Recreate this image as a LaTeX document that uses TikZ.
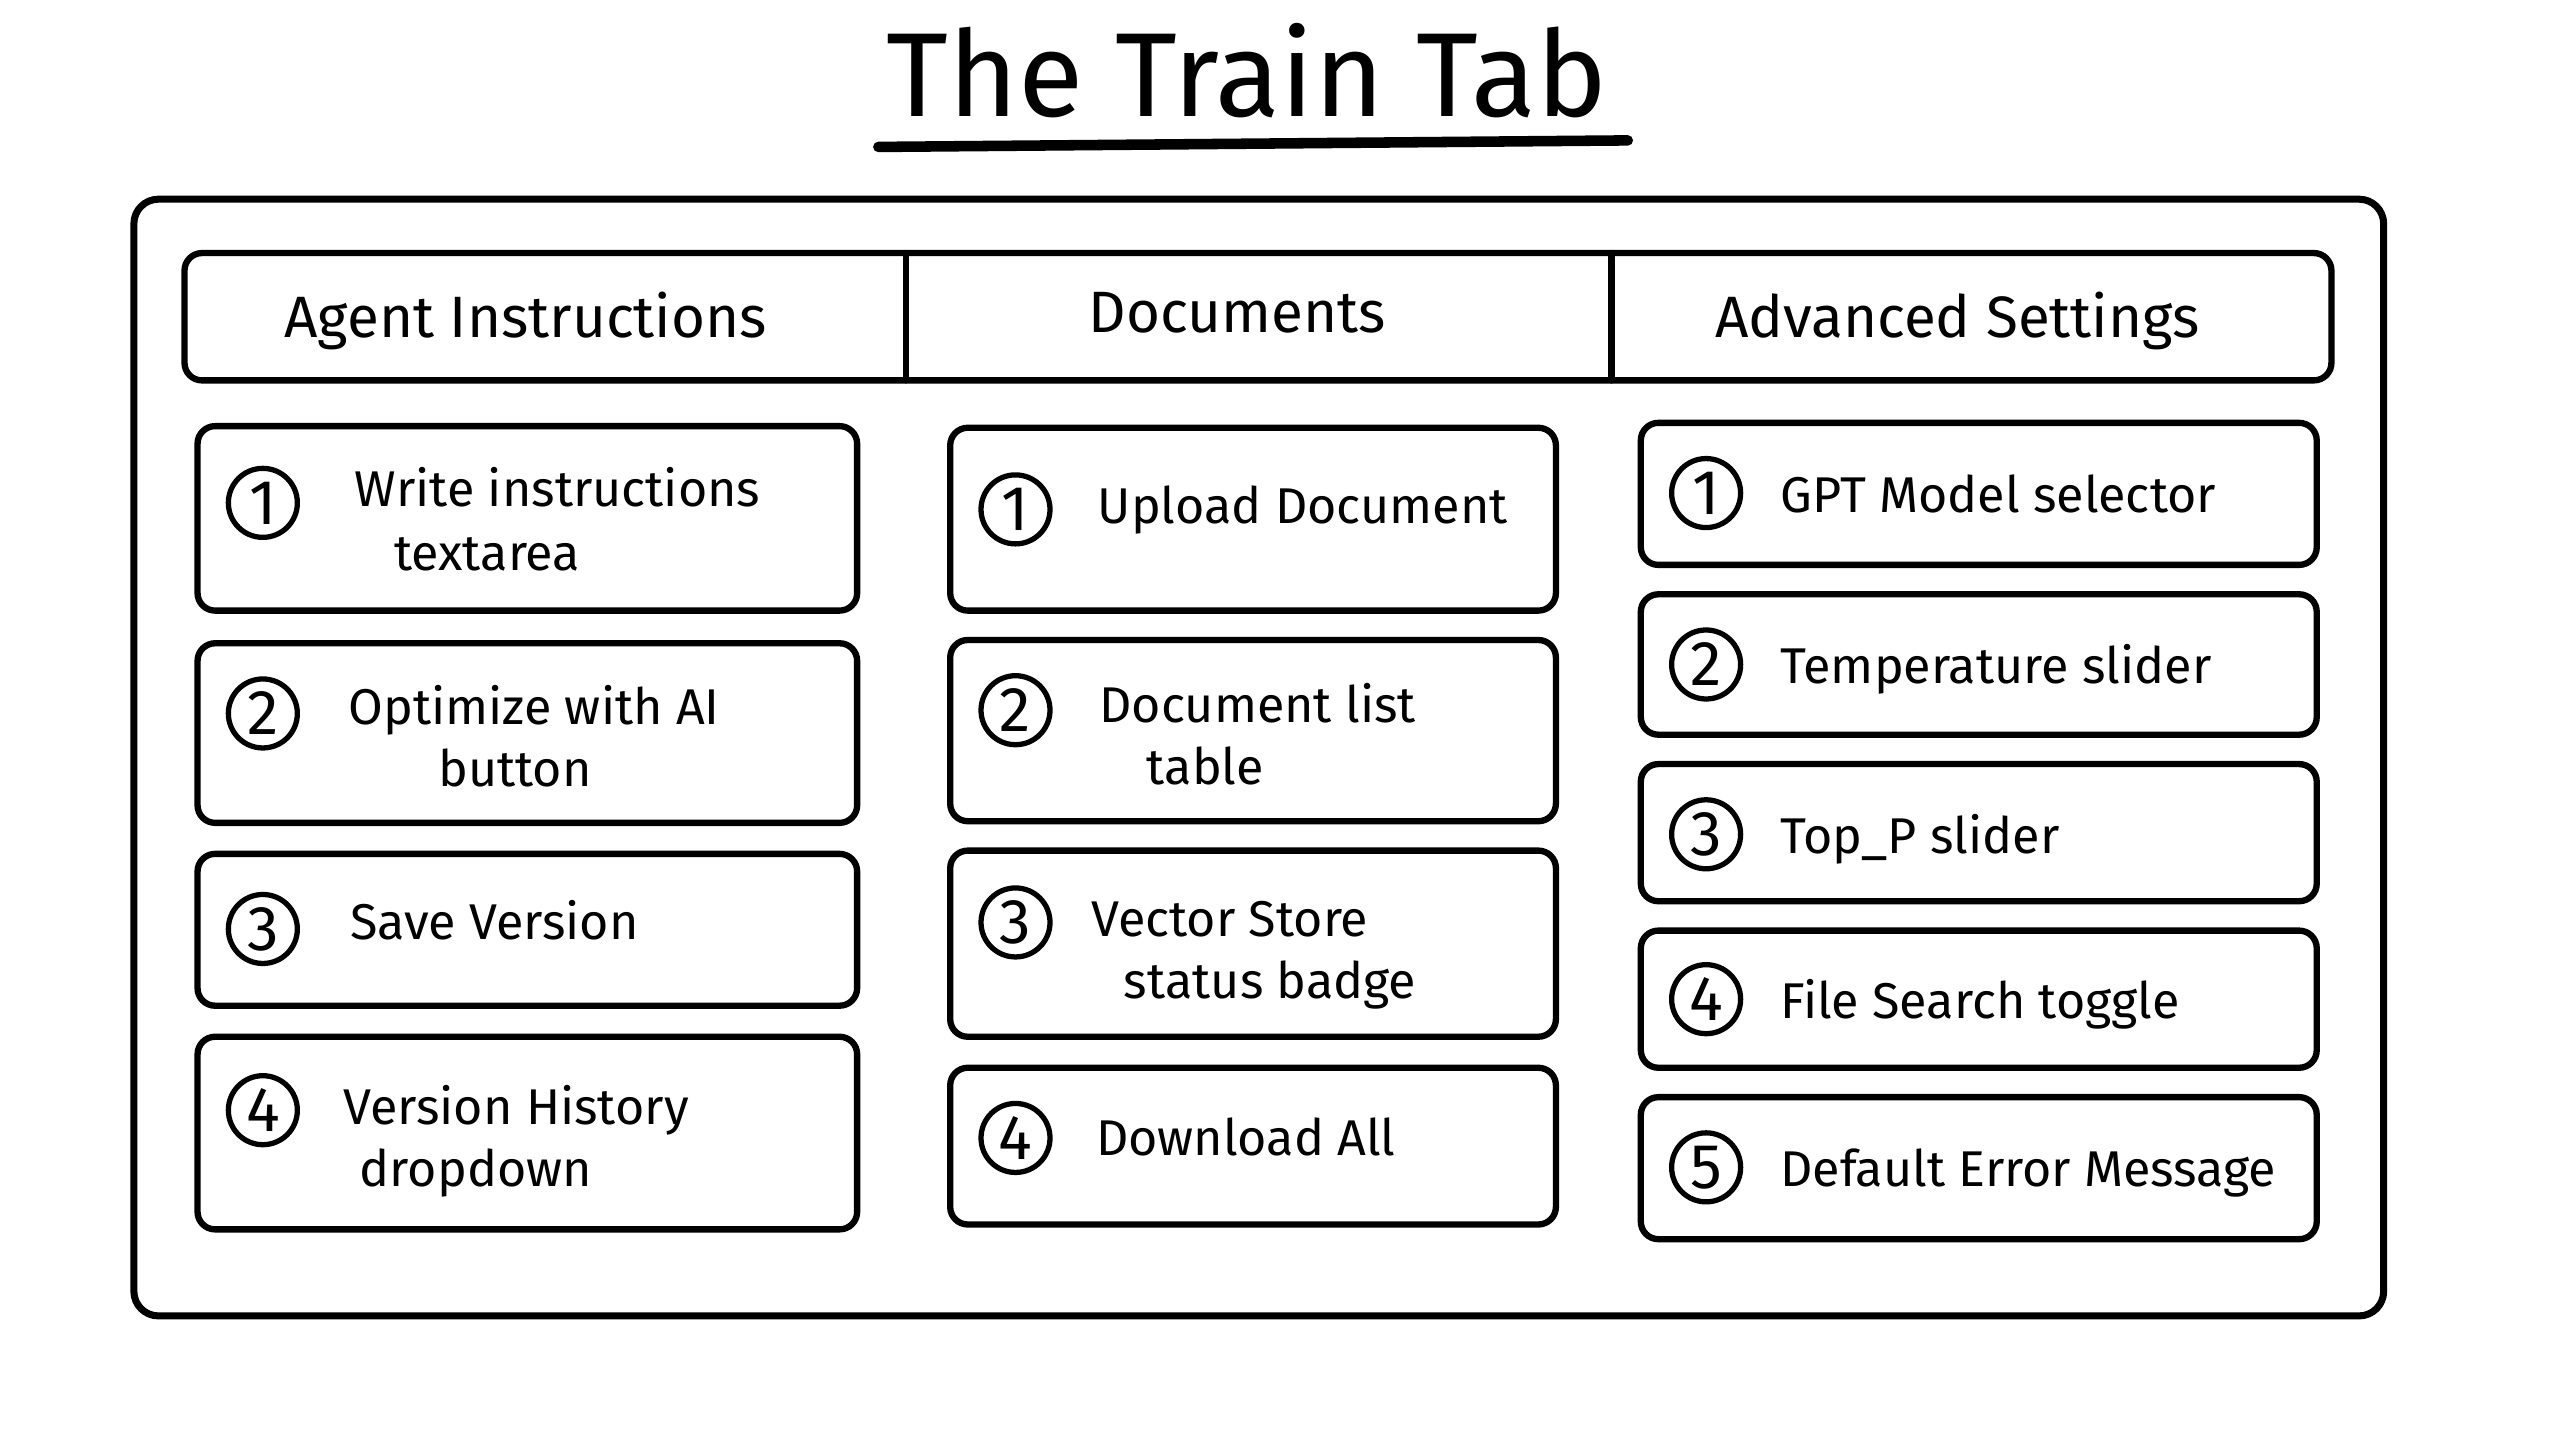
\documentclass[tikz,border=0pt]{standalone}
\usepackage{fontspec}
\setmainfont{Fira Sans}
\begin{document}
\begin{tikzpicture}[x=0.01633cm,y=-0.01633cm,line join=round,line cap=round,
  panel/.style={draw,line width=1.8pt,rounded corners=5pt},
  numcirc/.style={circle,draw,line width=1.5pt,minimum size=0.69cm,inner sep=0pt,font=\fontsize{18}{20}\selectfont},
  itemtext/.style={anchor=west,inner sep=0pt,text height=0.7em,text depth=0pt,font=\fontsize{14.3}{17}\selectfont},
  headtext/.style={text height=0.7em,text depth=0pt,font=\fontsize{16.6}{20}\selectfont}]
\useasboundingbox (0,0) rectangle (1568,882);
\fill[white] (0,0) rectangle (1568,882);
% title
\node[font=\fontsize{34}{40}\selectfont] (title) at (764,43) {The Train Tab};
\draw[line width=3pt] (538,90) -- (997,86);
% frame and tab bar
\draw[line width=2pt,rounded corners=7pt] (82,122) rectangle (1460,806);
\draw[panel] (113,155) rectangle (1428,233);
\draw[line width=1.8pt] (555,155) -- (555,233) (987,155) -- (987,233);
\node[headtext] (hagent) at (322,199) {Agent Instructions};
\node[headtext] (hdocs) at (758,196) {Documents};
\node[headtext] (hadv) at (1199,199) {Advanced Settings};
% agent instructions
\foreach \n/\ya/\yb/\yc in {1/261/374/308, 2/394/504/437, 3/523/616/569, 4/635/753/680}{
  \draw[panel] (121,\ya) rectangle (525,\yb);
  \node[numcirc] (ai\n) at (161,\yc) {\n};
}
\node[itemtext] (ai1a) at (217,303) {Write instructions};
\node[itemtext] (ai1b) at (241,342) {textarea};
\node[itemtext] (ai2a) at (213,436) {Optimize with AI};
\node[itemtext] (ai2b) at (268,474) {button};
\node[itemtext] (ai3a) at (214,568) {Save Version};
\node[itemtext] (ai4a) at (210,681) {Version History};
\node[itemtext] (ai4b) at (220,719) {dropdown};
% documents
\foreach \n/\ya/\yb/\yc in {1/262/374/312, 2/392/503/435, 3/521/635/565, 4/654/750/697}{
  \draw[panel] (582,\ya) rectangle (953,\yb);
  \node[numcirc] (doc\n) at (622,\yc) {\n};
}
\node[itemtext] (doc1a) at (672,313) {Upload Document};
\node[itemtext] (doc2a) at (673,435) {Document list};
\node[itemtext] (doc2b) at (702,473) {table};
\node[itemtext] (doc3a) at (668,566) {Vector Store};
\node[itemtext] (doc3b) at (688,604) {status badge};
\node[itemtext] (doc4a) at (671,700) {Download All};
% advanced settings
\foreach \n/\ya/\yb/\yc/\txt in {1/259/346/302/GPT Model selector, 2/364/450/407/Temperature slider,
    3/468/552/511/Top\_P slider, 4/570/654/612/File Search toggle, 5/672/759/715/Default Error Message}{
  \draw[panel] (1005,\ya) rectangle (1419,\yb);
  \node[numcirc] (adv\n) at (1045,\yc) {\n};
  \node[itemtext] (adv\n a) at ([yshift=-2] 1090,\yc) {\txt};
}
\end{tikzpicture}
\end{document}
